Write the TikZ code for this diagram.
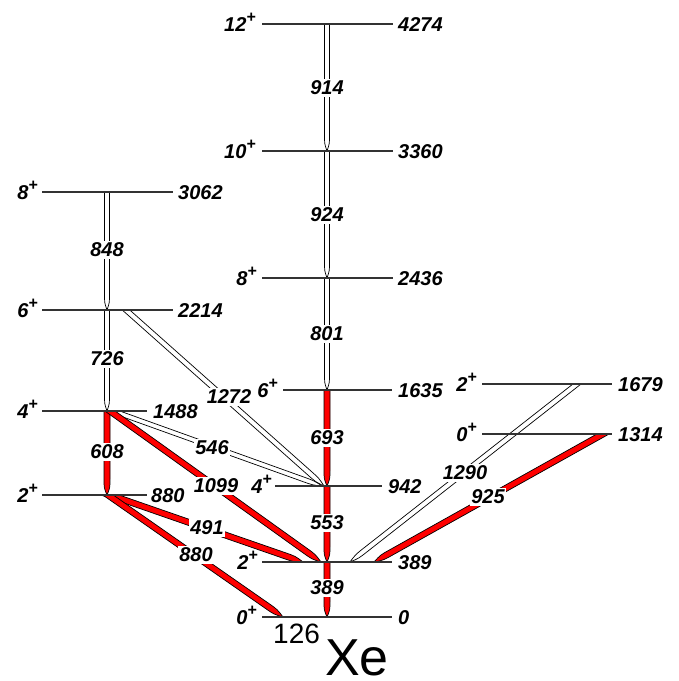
\documentclass[tikz,border=0pt]{standalone}
\usepackage{fontspec}
\setmainfont{Liberation Sans}
\usetikzlibrary{calc}
\newcommand\spn[1]{#1\raisebox{8.8pt}{\fontsize{16}{16}\selectfont +}}
% gamma transition band: [taper] start, end, half width (pt), fill colour
\newcommand\gtr[5][16]{%
  \path[gline,fill=#5] let \p1=(#2), \p2=(#3),
     \n1={atan2(\y2-\y1,\x2-\x1)}, \n2={#4/sin(\n1)} in
     (\x1-\n2,\y1)
     -- ($(\p2)+(\n1+180:#1pt)+(\n1+90:#4pt)$)
     .. controls ($(\p2)+(\n1+180:0.45*#1pt)+(\n1+90:#4pt)$) .. (\p2)
     .. controls ($(\p2)+(\n1+180:0.45*#1pt)+(\n1-90:#4pt)$) .. ($(\p2)+(\n1+180:#1pt)+(\n1-90:#4pt)$)
     -- (\x1+\n2,\y1) -- cycle;}
\tikzset{
  lvl/.style={line width=1.1pt, draw=black!80},
  gline/.style={draw=black, line width=0.7pt, line join=round},
  lab/.style={font=\fontsize{20}{20}\selectfont\bfseries\itshape, inner sep=0pt},
  en/.style={lab, anchor=base west, yshift=-7.1pt},
  sp/.style={lab, anchor=base east, yshift=-7.1pt},
  tl/.style={lab, fill=white, inner sep=1.6pt},
}
\begin{document}
\begin{tikzpicture}[x=1pt,y=-1pt]
\useasboundingbox (0,0) rectangle (679,681);
% coordinates of transition ends
\coordinate (c12) at (327,24);
\coordinate (c10) at (327,151);
\coordinate (c8) at (327,278);
\coordinate (c6) at (327,390);
\coordinate (c4) at (327,486);
\coordinate (c2) at (327,562);
\coordinate (c0) at (327,617);
\coordinate (l8) at (107,192);
\coordinate (l6) at (107,310);
\coordinate (l4) at (107,411);
\coordinate (l2) at (107,495);
\coordinate (s1272) at (126,310);
\coordinate (e1272) at (324,486);
\coordinate (s546) at (113,411);
\coordinate (e546) at (322,486);
\coordinate (s1099) at (110,411);
\coordinate (e1099) at (321,562);
\coordinate (s491) at (110,495);
\coordinate (e491) at (303,562);
\coordinate (s880) at (108,495);
\coordinate (e880) at (283,617);
\coordinate (s1290) at (577,384);
\coordinate (e1290) at (350,562);
\coordinate (s925) at (603,434);
\coordinate (e925) at (374,562);
% transitions
\gtr{c12}{c10}{2.5}{white}
\gtr{c10}{c8}{2.5}{white}
\gtr{c8}{c6}{2.5}{white}
\gtr{c6}{c4}{3}{red}
\gtr{c4}{c2}{3}{red}
\gtr{c2}{c0}{3}{red}
\gtr{l8}{l6}{2.5}{white}
\gtr{l6}{l4}{2.5}{white}
\gtr{l4}{l2}{3}{red}
\gtr[20]{s1272}{e1272}{2.5}{white}
\gtr[20]{s546}{e546}{2.3}{white}
\gtr[20]{s1099}{e1099}{3}{red}
\gtr[20]{s491}{e491}{3}{red}
\gtr[20]{s880}{e880}{3}{red}
\gtr[20]{s1290}{e1290}{2.5}{white}
\gtr[20]{s925}{e925}{3}{red}
% levels
\draw[lvl] (262,24) coordinate (L12a) -- (393,24) coordinate (L12b);
\draw[lvl] (262,151) coordinate (L10a) -- (393,151) coordinate (L10b);
\draw[lvl] (262,278) coordinate (L8ca) -- (393,278) coordinate (L8cb);
\draw[lvl] (283,390) coordinate (L6ca) -- (392,390) coordinate (L6cb);
\draw[lvl] (275,486) coordinate (L4ca) -- (382,486) coordinate (L4cb);
\draw[lvl] (262,562) coordinate (L2ca) -- (392,562) coordinate (L2cb);
\draw[lvl] (262,617) coordinate (L0a) -- (392,617) coordinate (L0b);
\draw[lvl] (42,192) coordinate (L8la) -- (173,192) coordinate (L8lb);
\draw[lvl] (42,310) coordinate (L6la) -- (173,310) coordinate (L6lb);
\draw[lvl] (42,411) coordinate (L4la) -- (147,411) coordinate (L4lb);
\draw[lvl] (42,495) coordinate (L2la) -- (147,495) coordinate (L2lb);
\draw[lvl] (482,384) coordinate (L2ra) -- (612,384) coordinate (L2rb);
\draw[lvl] (482,434) coordinate (L0ra) -- (612,434) coordinate (L0rb);
% spins
\node[sp] (p12) at (256,24) {\spn{12}};
\node[sp] (p10) at (256,151) {\spn{10}};
\node[sp] (p8c) at (257,278) {\spn{8}};
\node[sp] (p6c) at (278,390) {\spn{6}};
\node[sp] (p4c) at (272,486) {\spn{4}};
\node[sp] (p2c) at (258,562) {\spn{2}};
\node[sp] (p0) at (257,617) {\spn{0}};
\node[sp] (p8l) at (38,192) {\spn{8}};
\node[sp] (p6l) at (38,310) {\spn{6}};
\node[sp] (p4l) at (38,411) {\spn{4}};
\node[sp] (p2l) at (38,495) {\spn{2}};
\node[sp] (p2r) at (477,384) {\spn{2}};
\node[sp] (p0r) at (477,434) {\spn{0}};
% energies
\node[en] (e4274) at (398,24) {4274};
\node[en] (e3360) at (398,151) {3360};
\node[en] (e2436) at (398,278) {2436};
\node[en] (e1635) at (398,390) {1635};
\node[en] (e942) at (388,486) {942};
\node[en] (e389) at (398,562) {389};
\node[en] (e0) at (398,617) {0};
\node[en] (e3062) at (178,192) {3062};
\node[en] (e2214) at (178,310) {2214};
\node[en] (e1488) at (153,411) {1488};
\node[en] (e880l) at (151,495) {880};
\node[en] (e1679) at (618,384) {1679};
\node[en] (e1314) at (618,434) {1314};
% transition labels
\node[tl] (t914) at (327,88) {914};
\node[tl] (t924) at (327,215) {924};
\node[tl] (t801) at (327,334) {801};
\node[tl] (t693) at (327,438) {693};
\node[tl] (t553) at (327,523) {553};
\node[tl] (t389) at (327,588) {389};
\node[tl] (t848) at (107,250) {848};
\node[tl] (t726) at (107,359) {726};
\node[tl] (t608) at (107,452) {608};
\node[tl] (t1272) at (229,397) {1272};
\node[tl] (t546) at (212,448) {546};
\node[tl] (t1099) at (216,486) {1099};
\node[tl] (t491) at (207,528) {491};
\node[tl] (t880) at (196,555) {880};
\node[tl] (t1290) at (465,473) {1290};
\node[tl] (t925) at (488,497) {925};
% nucleus
\node[font=\fontsize{28}{28}\selectfont, anchor=base west, inner sep=0pt] (mass) at (273,643) {126};
\node[font=\fontsize{52}{52}\selectfont, anchor=base west, inner sep=0pt] (elem) at (325,675) {Xe};
\end{tikzpicture}
\end{document}
